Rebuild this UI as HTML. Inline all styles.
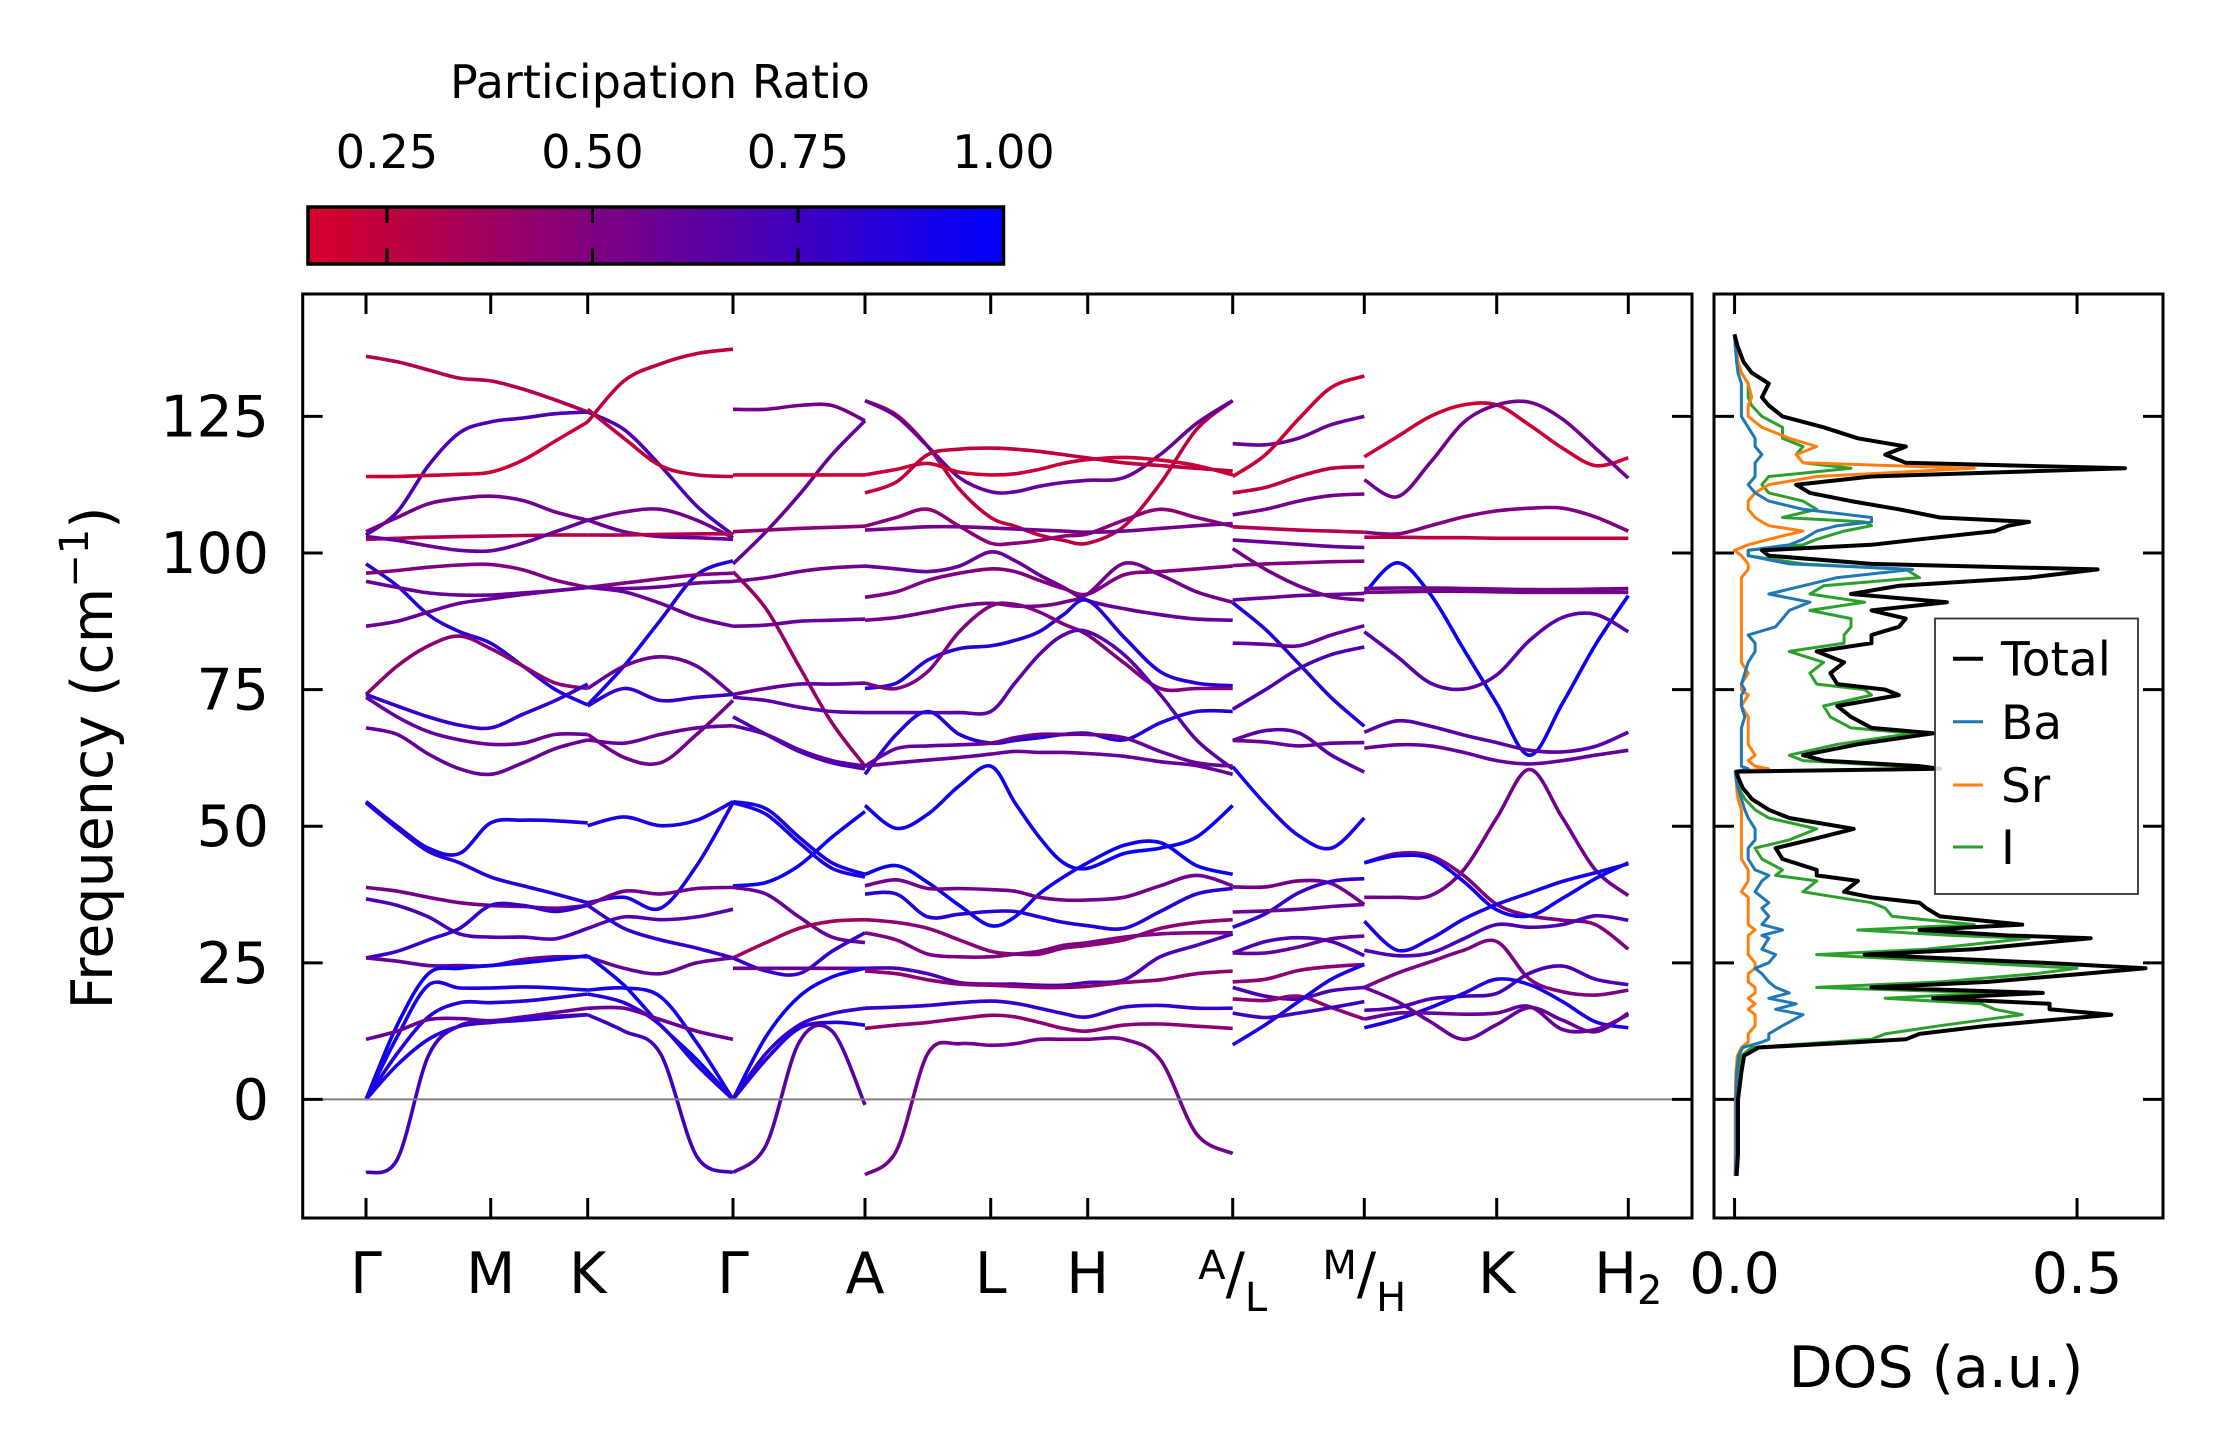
<!DOCTYPE html>
<html><head><meta charset="utf-8"><style>
html,body{margin:0;padding:0;background:#fff;}
svg{display:block;font-family:"DejaVu Sans","Liberation Sans",sans-serif;}
</style></head><body>
<svg id="chart" width="2222" height="1455" viewBox="0 0 2222 1455" xmlns="http://www.w3.org/2000/svg">
<defs>
<linearGradient id="cmapGrad" x1="0" x2="1" y1="0" y2="0">
<stop offset="0" stop-color="rgb(215,0,40)"/><stop offset="1" stop-color="rgb(0,0,255)"/>
</linearGradient>
<clipPath id="mainClip"><rect x="302.7" y="294" width="1389.3" height="924"/></clipPath>
<clipPath id="dosClip"><rect x="1714" y="294" width="449" height="924"/></clipPath>
</defs>
<g id="colorbar"></g>
<g id="bands" clip-path="url(#mainClip)"></g>
<g id="mainAxes"></g>
<g id="dos" clip-path="url(#dosClip)"></g>
<g id="dosAxes"></g>
<g id="legend"></g>
</svg>
<script>
const kTicks=[0,124.7,221.7,367,499,624.7,721.7,866.7,998.3,1130.7,1262.3];
const kLabels=["Γ","M","K","Γ","A","L","H","A/L","M/H","K","H2"];
const yTicks=[0,25,50,75,100,125];
const cbarTicks=[0.25,0.5,0.75,1.0];
const cbarTickLabels=["0.25","0.50","0.75","1.00"];
const dosTicks=[0,0.5];
const dosTickLabels=["0.0","0.5"];
const seg1=[[0.3,136,135,133.5,132,131.5,130,128,125.8],[0.7,103.3,107.5,116,122,124,124.7,125.5,125.8],[0.2,114,114,114.2,114.4,114.8,117,120.5,124],[0.55,103.9,106.5,109,110,110.4,109.6,107.5,106],[0.3,102.5,102.7,102.9,103,103.1,103.2,103.3,103.3],[0.6,103,102.3,101.3,100.5,100.4,101.8,103.9,106],[0.85,98,94,88.7,85.6,83.5,79.3,75,72.2],[0.5,96.3,96.8,97.4,97.8,97.9,96.9,95,93.7],[0.6,94.8,93.7,92.7,92.3,92.3,92.7,93.1,93.7],[0.6,86.6,87.5,89.2,90.8,91.6,92.4,93.1,93.7],[0.45,74.1,79.3,83,84.8,82.5,79.3,76.2,75.2],[0.8,74.1,72,70,68.5,68,70.5,73,76],[0.6,73.6,70,67.3,65.8,65,65.2,66.8,66.8],[0.6,68,66.8,63.2,60.5,59.5,61.6,64.2,65.8],[0.9,54.5,50,46,45,50.6,51.1,51,50.6],[0.85,54.3,49.6,45.4,43.3,40.7,39.1,37.6,36],[0.55,38.8,38.1,37,36,35.5,35.3,35,35.5],[0.7,36.7,35.5,33.4,30.3,29.7,29.7,29.4,31.3],[0.8,25.9,27.1,29.2,31.3,35.5,35.5,34.4,35.5],[0.6,25.9,25.3,24.5,24.5,24.5,25.6,26.1,26.1],[0.95,0,13.6,23,24,24.5,25,25.6,26.3],[0.9,0,11.5,20.9,20.4,20.4,20.6,20.4,20],[0.85,0,8.4,15.1,17.7,17.7,18,18.6,19.3],[0.6,11,12.5,14.6,14.8,14.4,15.1,15.9,16.7],[0.9,0,6.3,11,13.4,14.1,14.5,15,15.5],[0.75,-13.4,-11,8,13.5,14.1,14.8,15.2,15.5]];
const seg2=[[0.25,124,131.5,134.6,136.5,137.3],[0.7,125.8,122.6,116,108.6,103.3],[0.25,126.3,121,116,114.3,114],[0.55,106,107.5,108,106,102.8],[0.6,106,103.9,103,102.8,102.5],[0.3,103.3,103.3,103.4,103.5,103.5],[0.9,72.2,79.3,87.7,96,98.6],[0.5,93.7,94.5,95.3,96,96.3],[0.6,93.7,92.9,90.8,88.2,86.6],[0.6,93.7,93.5,93.8,94.5,94.8],[0.6,75.2,79.3,81,79.3,74.1],[0.8,72,75.2,73,73.6,74.1],[0.55,66.8,62.6,61.6,66.8,73],[0.6,65.8,65.2,66.8,68,68.4],[0.9,50.1,51.7,50.1,51.1,54.5],[0.9,36,37,35,42.8,54.3],[0.55,35.5,38.1,37.6,38.6,38.8],[0.65,31.3,33.4,32.9,33.4,34.8],[0.8,35.5,31.3,29.2,27.7,25.9],[0.6,26.1,24,23,25,25.9],[0.95,26.3,20.9,13.6,7.3,0],[0.9,20,20.4,18.8,10.4,0],[0.85,19.3,17.7,13.6,6.3,0],[0.6,16.7,16.7,14.6,12.5,11],[0.75,15.5,12.5,8.4,-10.4,-13.4]];
const seg3=[[0.55,126.3,126.3,127,127,124.2],[0.6,98,103.9,110.6,118,124.2],[0.2,114.3,114.3,114.3,114.3,114.3],[0.45,103.9,104.2,104.5,104.7,104.9],[0.4,96.6,89.8,79.3,68.9,61],[0.55,94.8,95.5,96.6,97.3,97.6],[0.6,86.6,86.8,87.5,87.7,87.9],[0.6,74.1,75.2,76,76,76.2],[0.65,73.6,73,71.8,71,70.8],[0.7,70,66.8,63.7,61.6,60.5],[0.65,68.4,66.8,64,62,61],[0.9,54.5,53.2,48,43.3,41.2],[0.9,54.3,52.2,47,42.3,40.7],[0.95,39.1,39.7,42.8,48,52.7],[0.6,38.8,37.6,33.4,29.7,28.7],[0.35,25.9,28.7,31.3,32.6,32.9],[0.8,25.9,23.5,23,27.1,30.5],[0.6,24,24,24,24,24],[0.95,0,11.5,18.8,22.4,24],[0.8,0,8.4,13.6,15.7,16.7],[0.85,0,7.3,13,14.1,13.6],[0.65,-13.4,-8.4,10.4,12.5,-1]];
const seg4=[[0.25,127.9,125.3,119.5,111.7,106.5,104.9,103.3,102.3,101.8,104.9,112.7,122.6,127.9],[0.6,127.9,125,119.5,113.8,111.2,111.2,112.2,112.9,113.3,113.8,118,123.7,127.9],[0.2,114.3,115.3,116.4,114.8,114.3,114.5,115.3,116.4,117.1,117.5,117,116,114.3],[0.25,111,113,118,119,119.2,119,118.6,118,117.4,116.5,116,115.5,115],[0.45,104.9,106.5,108,104.9,101.8,101.8,102.3,103.1,103.5,106,108,106.5,104.9],[0.55,104.2,104.5,104.8,104.8,104.6,104.4,104.2,104,103.8,104,104.5,105,105.4],[0.6,97.6,97.1,96.6,97.6,100.2,98.6,96,93.7,91.3,89.8,88.7,87.9,87.7],[0.5,91.9,92.9,95,96.3,97.1,96.6,95,93.5,92.5,96,96.6,97.1,97.6],[0.55,87.7,88.2,89.2,90.3,90.8,90.3,90.3,91,92.5,98.1,96,92.9,91],[0.85,75.2,76.2,80.4,82.5,83,84,85.6,88.7,91.3,84.6,78.3,76.2,75.7],[0.5,76.2,75.2,78.3,85.6,90.3,90.6,89.2,87,85,79.9,75.2,75.2,75.2],[0.65,70.8,70.8,70.8,70.8,71,76.2,81.4,85,85.6,81.4,74.1,65.8,60.5],[0.85,59.5,66.8,71,66.8,65.2,65.7,66.2,66.8,67,65.8,68.9,71,71],[0.6,61,64.2,64.7,64.9,65.2,66.2,66.8,66.8,66.8,66.2,63.7,61.6,61],[0.6,61,61.6,62.1,62.6,63.2,63.7,63.5,63.5,63.3,62.8,61.8,61.1,59.5],[0.95,53.8,49.6,52.2,57.4,61,54.3,48,43.3,42.3,45,46,48,53.8],[0.95,41.2,42.8,39.7,35.5,31.8,33.4,37.6,40.7,43.3,46.5,47,42.8,41.2],[0.55,39.1,40.2,38.6,38.6,38.4,38.1,37,36.5,36.5,37,39.1,41,39.1],[0.85,37.6,37.6,33.4,33.9,34.4,34.4,33.4,32.4,31.8,31.3,34.4,37.6,38.6],[0.45,32.9,32.4,31.3,29.2,27.1,26.6,26.6,27.7,28.2,29.2,31.3,32.4,32.9],[0.5,30.5,29.2,26.6,26.1,26.1,26.6,27.1,28.2,28.7,29.7,30.3,30.5,30.5],[0.7,24,24,23,21.4,21.1,21.1,20.9,20.9,21.4,21.9,26.1,28.2,30.3],[0.45,23.5,23,21.9,21.1,20.9,20.7,20.5,20.5,20.7,21.4,21.9,23,23.5],[0.8,16.7,16.9,17.2,17.7,18,17.6,16.7,15.7,15.1,16.9,17.2,16.7,16.7],[0.45,13,13.6,14.1,14.8,15.4,15.1,14.1,13,12.5,13.6,13.8,13.4,13],[0.55,-13.8,-9.4,8.4,10.2,9.9,10.2,11,11,11,11,7.3,-6.3,-9.9]];
const seg5=[[0.6,120,119.8,121,123.5,125],[0.2,114,118,124.5,130.3,132.4],[0.25,111,112,114,115.5,115.8],[0.55,107,108,109.5,110.5,110.8],[0.3,104.8,104.5,104.2,104,103.8],[0.6,102.4,102,101.6,101.2,101],[0.55,100.8,97,94,92,91.4],[0.5,97.7,98,98.2,98.4,98.5],[0.6,91.4,91.8,92.2,92.4,92.6],[0.85,90.9,86,79.8,73.5,68.3],[0.6,83.5,83.3,83,85,86.7],[0.7,71.4,75,78.8,81.4,82.8],[0.65,65.7,67.5,67.1,63,59.9],[0.6,65.7,65.4,64.7,65.2,65.3],[0.9,60.9,54,48.3,46,51.5],[0.55,38.9,38.9,40,39.5,35.7],[0.8,31.5,34,37.8,39.9,40.4],[0.6,34.3,34.5,34.8,35.3,35.7],[0.7,26.8,28.9,29.6,28.9,26.3],[0.6,26.8,26.8,27.9,29.4,29.9],[0.45,21.5,22,23.6,24.3,24.7],[0.7,20.5,18.9,18.4,19.9,20.5],[0.45,18.4,18.1,18.9,16.8,14.7],[0.9,10,13.7,17.9,22,24.7],[0.75,15.8,15,15.8,16.8,17.9]];
const seg6=[[0.2,117.6,121.3,125,127.1,127.1,123.4,119.2,116,117.4],[0.55,113.4,110.3,116.6,123.9,127.1,127.6,124.5,119.2,113.7],[0.5,103.8,103.5,105,106.6,107.7,108.2,108.2,106.6,104],[0.25,102.9,102.9,102.8,102.8,102.7,102.7,102.7,102.7,102.7],[0.95,92.6,98.2,92.4,82.4,72.5,63,72.5,83.2,92.2],[0.55,93.5,93.6,93.6,93.5,93.4,93.3,93.3,93.4,93.5],[0.55,92.8,92.9,93,93,92.9,92.8,92.8,92.8,92.8],[0.65,85.6,81,76.2,75.1,77.7,84,88.2,88.8,85.6],[0.65,67.2,69.3,68.3,66.7,65.3,63.9,63.6,64.6,67.2],[0.6,64.3,64.9,64.7,63.5,62,61.4,62,63,63.9],[0.55,37,37,37.3,42,51.5,60.4,51.5,42,37.3],[0.5,43.3,45,44.6,41,35.7,33.6,32.8,32,27.5],[0.95,43.3,44.6,44.1,39.9,34.7,33.6,36.8,40.4,43.3],[0.9,32.6,27.3,29.4,33,35.7,37.8,39.9,41.5,43.1],[0.7,27.3,26.3,26.8,29.4,32,31.5,32,33.6,32.8],[0.5,20.5,23.1,25.2,27.3,28.9,22,19.7,19.1,20],[0.6,20.5,17.9,14.2,11,13.7,16.8,14.5,12.4,15.8],[0.7,16.3,16.8,18.4,18.9,19.4,23.1,24.4,22,21],[0.9,13.1,14.7,16.8,19.4,22,21,17.9,14.2,13.1],[0.6,14.7,15.8,15.8,15.6,15.8,17,12.8,12.8,15.5]];
const segNodes=[[0,1,2],[2,3],[3,4],[4,5,6,7],[7,8],[8,9,10]];
const segSubdiv=[[4,3],[4],[4],[4,4,4],[4],[4,4]];
const segBands=[seg1,seg2,seg3,seg4,seg5,seg6];
const dosFreq=[-14,-10,0,5,8,9.5,10.5,11,12,13.5,15.5,16.5,17.5,18.5,19.5,20.5,21.5,23,24,25,26.5,27.5,29.5,30,31,32,33.5,35,36,37,38,40,41,42,44,46,47.5,49.5,51.5,53,55,57,59,60,60.5,61,62,63,65,67,68,70,72,74,75,76,78,80,82,83.5,85,86.5,88,89.5,91,92.5,94,95.5,97,98,99.5,100.5,101.5,102.5,104,105,105.7,106.5,108,109.5,111,112.5,114,115.5,116.5,118,119.5,121,123,125,127,128.5,131,133,135,138,140];
const dosTotal=[.003,.005,.005,.01,.014,.035,.18,.25,.27,.37,.55,.46,.46,.29,.45,.2,.37,.51,.6,.45,.19,.35,.52,.4,.27,.42,.3,.28,.27,.2,.16,.18,.12,.12,.07,.06,.11,.174,.08,.05,.025,.012,.005,.003,.3,.27,.13,.1,.18,.29,.2,.17,.15,.24,.22,.15,.14,.16,.12,.2,.2,.24,.25,.2,.31,.17,.24,.43,.53,.2,.05,.04,.2,.27,.38,.4,.43,.3,.24,.17,.11,.09,.2,.57,.25,.22,.25,.18,.13,.07,.05,.04,.05,.025,.013,.004,0];
const dosBa=[.001,.002,.002,.003,.006,.012,.04,.05,.05,.07,.1,.06,.09,.05,.08,.06,.05,.04,.03,.05,.06,.04,.05,.04,.07,.04,.05,.04,.05,.04,.03,.04,.05,.03,.02,.02,.03,.03,.02,.015,.01,.005,.002,.001,.02,.01,.01,.01,.01,.01,.01,.015,.01,.01,.015,.01,.015,.02,.03,.03,.02,.06,.07,.08,.11,.05,.1,.15,.26,.08,.02,.02,.08,.1,.12,.15,.2,.2,.1,.05,.03,.02,.03,.03,.03,.04,.03,.03,.02,.01,.01,.01,.01,.005,.003,.001,0];
const dosSr=[.001,.001,.001,.002,.004,.01,.02,.02,.02,.03,.03,.02,.03,.02,.03,.03,.02,.02,.03,.03,.02,.02,.02,.02,.03,.02,.02,.02,.02,.02,.01,.02,.02,.02,.01,.01,.01,.01,.01,.01,.005,.003,.002,.001,.05,.03,.02,.03,.02,.02,.02,.02,.01,.02,.01,.01,.02,.01,.01,.01,.01,.01,.01,.01,.01,.01,.01,.01,.02,.02,.01,0,.02,.05,.1,.05,.04,.03,.02,.02,.03,.05,.12,.35,.1,.09,.12,.08,.04,.02,.02,.025,.02,.01,.005,.002,0];
const dosI=[.002,.003,.003,.006,.01,.025,.14,.2,.22,.3,.42,.38,.36,.22,.37,.12,.3,.44,.5,.35,.12,.28,.43,.32,.18,.35,.23,.22,.2,.15,.1,.12,.06,.07,.04,.03,.08,.12,.05,.03,.015,.006,.003,.002,.25,.24,.1,.08,.15,.26,.17,.14,.13,.2,.19,.12,.11,.13,.08,.16,.16,.17,.17,.11,.19,.11,.13,.27,.25,.1,.02,.02,.1,.12,.16,.2,.19,.07,.12,.1,.05,.04,.05,.17,.1,.09,.1,.07,.07,.04,.025,.02,.02,.01,.005,.001,0];
const dosSeries=[["Total",dosTotal,"#000000",4],["Ba",dosBa,"#1f77b4",3],["Sr",dosSr,"#ff7f0e",3],["I",dosI,"#2ca02c",3]];

const NS="http://www.w3.org/2000/svg";
const FL=302.7,FR=1692,FT=294,FB=1218,DL=1714,DR=2163;
const yMin=-21.7,yMax=147.4,kMin=-63.3,kMax=1326,dMin=-0.03,dMax=0.6255,cMin=0.154,cMax=1.0;
const CB={x0:308,x1:1003.5,y0:207,y1:264};
function yS(f){return FB-(f-yMin)/(yMax-yMin)*(FB-FT);}
function kS(k){return FL+(k-kMin)/(kMax-kMin)*(FR-FL);}
function dS(v){return DL+(v-dMin)/(dMax-dMin)*(DR-DL);}
function cS(v){return CB.x0+(v-cMin)/(cMax-cMin)*(CB.x1-CB.x0);}
function cmap(p){let t=Math.max(0,Math.min(1,(p-cMin)/(cMax-cMin)));return `rgb(${Math.round(215*(1-t))},0,${Math.round(40+215*t)})`;}
function mk(tag,attrs,parent){const e=document.createElementNS(NS,tag);for(const a in attrs)e.setAttribute(a,attrs[a]);parent.appendChild(e);return e;}
function spline(pts){let d=`M${pts[0][0].toFixed(1)},${pts[0][1].toFixed(1)}`;for(let i=0;i<pts.length-1;i++){const p0=pts[Math.max(0,i-1)],p1=pts[i],p2=pts[i+1],p3=pts[Math.min(pts.length-1,i+2)];const c1=[p1[0]+(p2[0]-p0[0])/6,p1[1]+(p2[1]-p0[1])/6],c2=[p2[0]-(p3[0]-p1[0])/6,p2[1]-(p3[1]-p1[1])/6];d+=`C${c1[0].toFixed(1)},${c1[1].toFixed(1)} ${c2[0].toFixed(1)},${c2[1].toFixed(1)} ${p2[0].toFixed(1)},${p2[1].toFixed(1)}`;}return d;}

// bands
const gB=document.getElementById('bands');
segBands.forEach((bands,si)=>{
  const nodes=segNodes[si],sub=segSubdiv[si];const ks=[kTicks[nodes[0]]];
  for(let j=0;j<sub.length;j++){const a=kTicks[nodes[j]],b=kTicks[nodes[j+1]];for(let s=1;s<=sub[j];s++)ks.push(a+(b-a)*s/sub[j]);}
  bands.forEach((b,bi)=>{
    const pts=ks.map((k,i)=>[kS(k),yS(b[i+1])]);
    const p=mk('path',{d:spline(pts),fill:'none',stroke:cmap(b[0]),'stroke-width':3.6,'stroke-linecap':'butt'},gB);
    
    
  });
});
// main axes
const gA=document.getElementById('mainAxes');
let z=mk('line',{x1:FL,x2:FR,y1:yS(0),y2:yS(0),stroke:'#808080','stroke-width':2},gA);

let fr=mk('rect',{x:FL,y:FT,width:FR-FL,height:FB-FT,fill:'none',stroke:'#000','stroke-width':3},gA);

yTicks.forEach(v=>{const y=yS(v);
  mk('line',{x1:FL,x2:FL+20,y1:y,y2:y,stroke:'#000','stroke-width':3},gA);
  mk('line',{x1:FR-20,x2:FR,y1:y,y2:y,stroke:'#000','stroke-width':3},gA);
  const t=mk('text',{x:269,y:y+20,'text-anchor':'end','font-size':57},gA);t.textContent=String(v);
  
});
kTicks.forEach((k,i)=>{const x=kS(k);
  mk('line',{x1:x,x2:x,y1:FB,y2:FB-20,stroke:'#000','stroke-width':3},gA);
  mk('line',{x1:x,x2:x,y1:FT,y2:FT+20,stroke:'#000','stroke-width':3},gA);
  const lab=kLabels[i];let t;
  if(lab.indexOf('/')>0){const [a,b]=lab.split('/');
    t=mk('text',{x:x,y:1293,'text-anchor':'middle','font-size':57},gA);
    t.innerHTML=`<tspan font-size="40" dy="-14">${a}</tspan><tspan dy="14">/</tspan><tspan font-size="40" dy="18">${b}</tspan>`;
  } else if(lab==="H2"){t=mk('text',{x:x,y:1293,'text-anchor':'middle','font-size':57},gA);t.innerHTML='H<tspan font-size="40" dy="11">2</tspan>';}
  else {t=mk('text',{x:x,y:1293,'text-anchor':'middle','font-size':57},gA);t.textContent=lab;}
  
});
let yl=mk('text',{x:0,y:0,'text-anchor':'middle','font-size':57,transform:'translate(112,758) rotate(-90)'},gA);
yl.innerHTML='Frequency (cm<tspan font-size="40" dy="-24">−1</tspan><tspan dy="24">)</tspan>';


// DOS
const gD=document.getElementById('dos');
dosSeries.slice().reverse().forEach(s=>{
  const d=dosFreq.map((f,i)=>(i?'L':'M')+dS(s[1][i]).toFixed(1)+','+yS(f).toFixed(1)).join('');
  const p=mk('path',{d:d,fill:'none',stroke:s[2],'stroke-width':s[3],'stroke-linejoin':'round'},gD);
  
});
const gDA=document.getElementById('dosAxes');
let fr2=mk('rect',{x:DL,y:FT,width:DR-DL,height:FB-FT,fill:'none',stroke:'#000','stroke-width':3},gDA);

yTicks.forEach(v=>{const y=yS(v);
  mk('line',{x1:DL,x2:DL+20,y1:y,y2:y,stroke:'#000','stroke-width':3},gDA);
  mk('line',{x1:DR-20,x2:DR,y1:y,y2:y,stroke:'#000','stroke-width':3},gDA);});
dosTicks.forEach((v,i)=>{const x=dS(v);
  mk('line',{x1:x,x2:x,y1:FB,y2:FB-20,stroke:'#000','stroke-width':3},gDA);
  mk('line',{x1:x,x2:x,y1:FT,y2:FT+20,stroke:'#000','stroke-width':3},gDA);
  const t=mk('text',{x:x,y:1293,'text-anchor':'middle','font-size':57},gDA);t.textContent=dosTickLabels[i];
  });
let dl=mk('text',{x:1936,y:1387,'text-anchor':'middle','font-size':57},gDA);dl.textContent='DOS (a.u.)';


// legend
const gL=document.getElementById('legend');
let lb=mk('rect',{x:1935,y:618.5,width:203,height:275.5,fill:'#fff','fill-opacity':0.85,stroke:'#333','stroke-width':1.8},gL);

const legY=[658.7,721.8,785,847];
dosSeries.forEach((s,i)=>{
  const ln=mk('line',{x1:1953,x2:1983,y1:legY[i],y2:legY[i],stroke:s[2],'stroke-width':s[3]},gL);
  
  const t=mk('text',{x:2001,y:legY[i]+17,'font-size':47},gL);t.textContent=s[0];
  
});

// colorbar
const gC=document.getElementById('colorbar');
let ct=mk('text',{x:660,y:98,'text-anchor':'middle','font-size':46},gC);ct.textContent='Participation Ratio';

let cr=mk('rect',{x:CB.x0,y:CB.y0,width:CB.x1-CB.x0,height:CB.y1-CB.y0,fill:'url(#cmapGrad)',stroke:'#000','stroke-width':3.5},gC);

cbarTicks.forEach((v,i)=>{const x=cS(v);
  if(v<cMax){mk('line',{x1:x,x2:x,y1:CB.y0,y2:CB.y0+16,stroke:'#000','stroke-width':3},gC);
  mk('line',{x1:x,x2:x,y1:CB.y1-16,y2:CB.y1,stroke:'#000','stroke-width':3},gC);}
  const t=mk('text',{x:x,y:168,'text-anchor':'middle','font-size':46},gC);t.textContent=cbarTickLabels[i];
  });
</script>
</body></html>
